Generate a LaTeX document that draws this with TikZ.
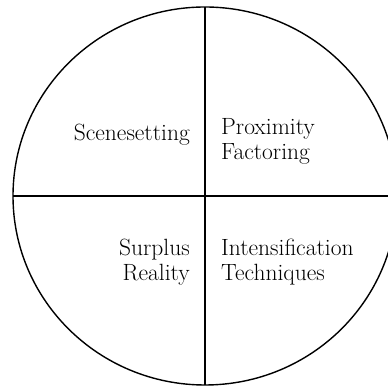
\documentclass[tikz,border=0pt]{standalone}
\begin{document}
\begin{tikzpicture}[x=1pt,y=1pt,
  ring/.style={line width=1.4pt},
  divider/.style={line width=1.4pt},
  quad/.style={inner sep=0pt,font=\fontsize{23.5}{25}\selectfont}]
\useasboundingbox (0,0) rectangle (388,387);
\coordinate (c) at (205,191);
\draw[ring] (c) ellipse [x radius=192, y radius=189];
\coordinate (top) at (205,380);
\coordinate (bot) at (205,2);
\coordinate (lft) at (13,191);
\coordinate (rgt) at (397,191);
\draw[divider] (top) -- (bot);
\draw[divider] (lft) -- (rgt);
\node[quad,anchor=base east] (scene) at (190,246) {Scenesetting};
\node[quad,anchor=base west] (prox) at (221,252) {\begin{tabular}[t]{@{}l@{}}Proximity\\Factoring\end{tabular}};
\node[quad,anchor=base east] (surp) at (190,131) {\begin{tabular}[t]{@{}r@{}}Surplus\\Reality\end{tabular}};
\node[quad,anchor=base west] (inten) at (221,131) {\begin{tabular}[t]{@{}l@{}}Intensification\\Techniques\end{tabular}};
\end{tikzpicture}
\end{document}
